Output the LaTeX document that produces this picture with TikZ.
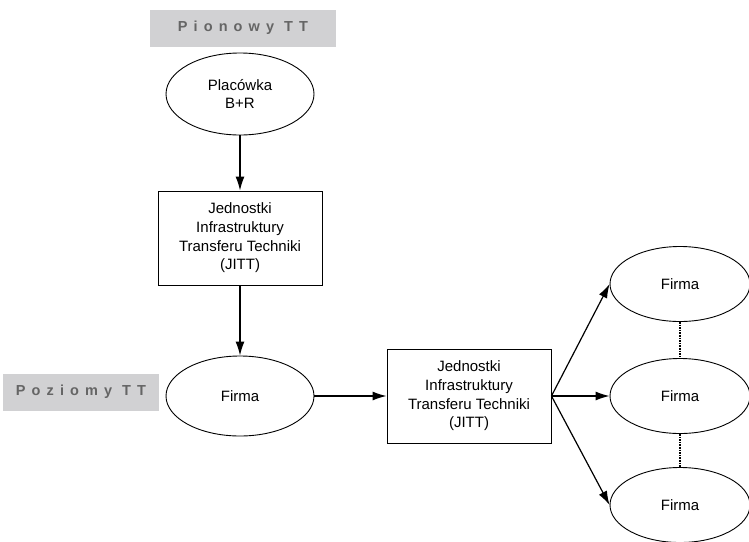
\documentclass[tikz,border=0pt]{standalone}
\usepackage{fontspec}
\setmainfont{Liberation Sans}
\newfontfamily\spacedfont[LetterSpace=42]{Liberation Sans}
\usepackage{xcolor}
\usepackage{tikz}
\usetikzlibrary{shapes.geometric}
\usetikzlibrary{arrows.meta}
\definecolor{labelfill}{HTML}{D1D1D3}
\definecolor{labeltext}{HTML}{656565}

\begin{document}
\begin{tikzpicture}[x=1pt,y=-1pt,
  every node/.style={font=\fontsize{15pt}{18.7pt}\selectfont},
  unit/.style={draw, line width=0.9pt, ellipse, inner sep=0pt, minimum width=148pt, minimum height=82pt, align=center},
  smallunit/.style={unit, minimum width=140pt, minimum height=75pt},
  jittbox/.style={draw, line width=0.9pt, rectangle, inner sep=0pt, minimum width=164pt, minimum height=94pt, align=center},
  tag/.style={fill=labelfill, text=labeltext, inner sep=0pt, font=\spacedfont\bfseries\fontsize{14.5pt}{16pt}\selectfont},
  flow/.style={draw, line width=1.2pt, -{Latex[length=14pt,width=9pt]}},
  link/.style={draw, line width=2.2pt, dash pattern=on 1.6pt off 1pt}]
\useasboundingbox (0,0) rectangle (749,541);

% labels
\node (pion) at (243,28) [tag, minimum width=186pt, minimum height=37pt] {Pionowy TT};
\node (poz) at (81,392) [tag, minimum width=156pt, minimum height=37pt] {Poziomy TT};

% vertical path
\node (plac) at (240,94) [unit] {Placówka\\B+R};
\node (jitt1) at (240,238) [jittbox] {Jednostki\\Infrastruktury\\Transferu Techniki\\(JITT)};
\node (firma) at (240,396) [unit, minimum height=80pt] {Firma};

% horizontal path
\node (jitt2) at (469,396) [jittbox] {Jednostki\\Infrastruktury\\Transferu Techniki\\(JITT)};
\node (firmaA) at (680,284) [smallunit] {Firma};
\node (firmaB) at (680,396) [smallunit] {Firma};
\node (firmaC) at (680,505) [smallunit] {Firma};

\draw[flow] (plac) -- (jitt1);
\draw[flow] (jitt1) -- (firma);
\draw[flow] (firma) -- (jitt2);
\draw[flow] (jitt2.east) -- (firmaA.west);
\draw[flow] (jitt2.east) -- (firmaB.west);
\draw[flow] (jitt2.east) -- (firmaC.west);

\draw[link] (firmaA) -- (firmaB);
\draw[link] (firmaB) -- (firmaC);
\end{tikzpicture}
\end{document}
